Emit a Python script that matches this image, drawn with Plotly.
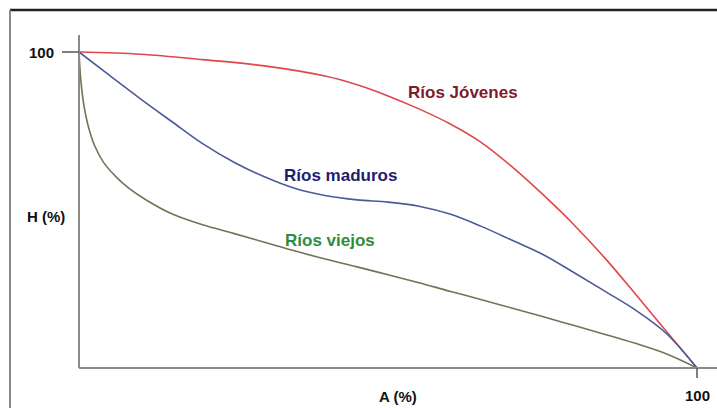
import plotly.graph_objects as go

# Hypsometric curves: relative height H (%) versus relative area A (%)
area_jovenes = [0, 10, 20, 30, 40, 45, 50, 55, 60, 65, 70, 75, 80, 85, 90, 95, 100]
height_jovenes = [100, 99.3, 97.6, 95.6, 92.3, 89.6, 86.1, 82.0, 77.3, 71.5, 63.8, 55.0, 45.5, 35.0, 23.5, 11.7, 0]

area_maduros = [0, 5, 10, 15, 20, 25, 30, 35, 40, 45, 50, 55, 60, 65, 70, 75, 80, 85, 90, 95, 100]
height_maduros = [100, 92.5, 85.1, 78.0, 71.0, 65.2, 60.5, 56.8, 54.5, 53.2, 52.5, 51.2, 48.7, 44.9, 40.5, 36.0, 30.3, 24.4, 18.4, 11.0, 0]

area_viejos = [0, 0.3, 0.8, 1.5, 2.5, 4, 6, 8, 11, 15, 20, 25, 30, 35, 40, 45, 50, 55, 60, 65, 70, 75, 80, 85, 90, 95, 100]
height_viejos = [100, 91, 83, 76.5, 70.5, 65, 60.5, 57, 53, 48.8, 45.3, 42.6, 39.8, 37.0, 34.4, 32.0, 29.5, 27.0, 24.3, 21.7, 19.0, 16.3, 13.5, 10.7, 7.8, 4.5, 0]

series_names = ["Ríos Jóvenes", "Ríos maduros", "Ríos viejos"]
line_colors = ["#e0464a", "#4b5a98", "#6e7656"]
text_colors = ["#7d1c2c", "#1e1e6e", "#2f8c3a"]

W, H = 717, 408
# pixel frame of the plot: A 0..100 spans x 79..697, H 0..100 spans y 368..52
X0, X1, Y0, Y1 = 79, 697, 368, 52
sx = (X1 - X0) / 100.0
sy = (Y0 - Y1) / 100.0


def dx(px):
    return (px - X0) / sx


def dy(py):
    return (Y0 - py) / sy


fig = go.Figure()
for xs, ys, c, n in zip([area_jovenes, area_maduros, area_viejos],
                        [height_jovenes, height_maduros, height_viejos],
                        line_colors, series_names):
    fig.add_trace(go.Scatter(x=xs, y=ys, mode="lines", name=n,
                             line=dict(color=c, width=1.6, shape="spline", smoothing=1.0,
                                       simplify=False),
                             showlegend=False, hoverinfo="skip"))

axis_gray = "#8a8a8a"
shapes = [
    # frame
    dict(type="line", xref="paper", yref="paper", x0=10 / W, x1=1, y0=1 - 10 / H, y1=1 - 10 / H,
         line=dict(color="#222222", width=2.5)),
    dict(type="line", xref="paper", yref="paper", x0=10 / W, x1=10 / W, y0=0, y1=1 - 10 / H,
         line=dict(color=axis_gray, width=2)),
    # axes
    dict(type="line", xref="x", yref="y", x0=0, x1=0, y0=0, y1=dy(35),
         line=dict(color=axis_gray, width=2)),
    dict(type="line", xref="x", yref="y", x0=0, x1=dx(717), y0=0, y1=0,
         line=dict(color=axis_gray, width=2)),
    # ticks at 100
    dict(type="line", xref="x", yref="y", x0=dx(62), x1=0, y0=100, y1=100,
         line=dict(color="#555555", width=1.5)),
    dict(type="line", xref="x", yref="y", x0=100, x1=100, y0=0, y1=dy(378),
         line=dict(color="#555555", width=1.5)),
]

font_b = "Liberation Sans, Arial, sans-serif"
annotations = [
    dict(x=dx(56), y=100, text="<b>100</b>", xanchor="right", yanchor="middle",
         font=dict(family=font_b, size=15, color="#111111")),
    dict(x=100, y=dy(395), text="<b>100</b>", xanchor="center", yanchor="middle",
         font=dict(family=font_b, size=15, color="#111111")),
    dict(x=dx(46), y=dy(216), text="<b>H (%)</b>", xanchor="center", yanchor="middle",
         font=dict(family=font_b, size=15, color="#111111")),
    dict(x=dx(398), y=dy(396), text="<b>A (%)</b>", xanchor="center", yanchor="middle",
         font=dict(family=font_b, size=15, color="#111111")),
    dict(x=dx(463), y=dy(92), text="<b>" + series_names[0] + "</b>", xanchor="center", yanchor="middle",
         font=dict(family=font_b, size=17, color=text_colors[0])),
    dict(x=dx(340), y=dy(175), text="<b>" + series_names[1] + "</b>", xanchor="center", yanchor="middle",
         font=dict(family=font_b, size=17, color=text_colors[1])),
    dict(x=dx(330), y=dy(240), text="<b>" + series_names[2] + "</b>", xanchor="center", yanchor="middle",
         font=dict(family=font_b, size=17, color=text_colors[2])),
]
for a in annotations:
    a.update(xref="x", yref="y", showarrow=False)

fig.update_layout(
    width=W, height=H,
    margin=dict(l=0, r=0, t=0, b=0),
    paper_bgcolor="white", plot_bgcolor="white",
    xaxis=dict(range=[dx(0), dx(W)], visible=False, fixedrange=True),
    yaxis=dict(range=[dy(H), dy(0)], visible=False, fixedrange=True),
    shapes=shapes, annotations=annotations,
)

fig.write_html("out.html")
